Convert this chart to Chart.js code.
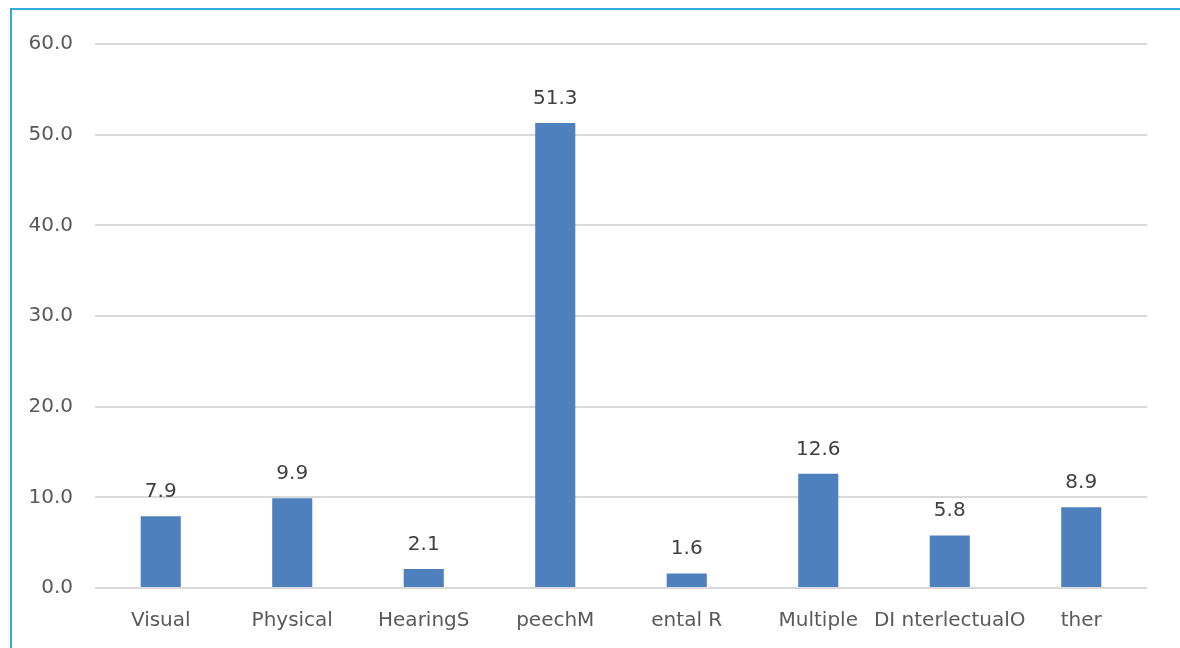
<!DOCTYPE html>
<html>
<head>
<meta charset="utf-8">
<script src="https://cdn.jsdelivr.net/npm/chart.js@4"></script>
<style>
  html, body { margin: 0; padding: 0; background: #ffffff; }
  #wrap { position: relative; width: 1180px; height: 648px; overflow: hidden; }
  #frame { position: absolute; left: 10px; top: 8px; width: 1180px; height: 660px;
           border-top: 2px solid #35a8e0; border-left: 2px solid #35a8e0; box-sizing: border-box; }
  canvas { position: absolute; left: 0; top: 0; }
</style>
</head>
<body>
<div id="wrap">
  <div id="frame"></div>
  <canvas id="chart" width="1180" height="648"></canvas>
</div>
<script>
const categories = ["Visual", "Physical", "HearingS", "peechM", "ental R", "Multiple", "DI nterlectualO", "ther"];
const values = [7.9, 9.9, 2.1, 51.3, 1.6, 12.6, 5.8, 8.9];
const yTicks = [0, 10, 20, 30, 40, 50, 60];

const FONT = "'DejaVu Sans', sans-serif";

// Writes each bar's value just above the bar
const valueLabels = {
  id: 'valueLabels',
  afterDatasetsDraw(chart) {
    const ctx = chart.ctx;
    const meta = chart.getDatasetMeta(0);
    ctx.save();
    ctx.font = '20px ' + FONT;
    ctx.fillStyle = '#404040';
    ctx.textAlign = 'center';
    ctx.textBaseline = 'alphabetic';
    meta.data.forEach((bar, i) => {
      ctx.fillText(values[i].toFixed(1), bar.x, bar.y - 19);
    });
    ctx.restore();
  }
};

new Chart(document.getElementById('chart'), {
  type: 'bar',
  data: {
    labels: categories,
    datasets: [{
      data: values,
      backgroundColor: '#4e80bd',
      borderWidth: 0,
      barPercentage: 0.305,
      categoryPercentage: 1.0
    }]
  },
  options: {
    responsive: false,
    animation: false,
    layout: { padding: { top: 44, right: 33, bottom: 0, left: 0 } },
    plugins: { legend: { display: false }, tooltip: { enabled: false } },
    scales: {
      x: {
        afterFit(scale) { scale.height = 60; },
        grid: { display: false, drawTicks: false },
        border: { display: false },
        ticks: { color: '#595959', font: { family: FONT, size: 20 }, padding: 21, maxRotation: 0, autoSkip: false }
      },
      y: {
        min: 0,
        max: 60,
        afterFit(scale) { scale.width = 95; },
        afterBuildTicks(scale) { scale.ticks = yTicks.map(v => ({ value: v })); },
        grid: { color: '#d9d9d9', lineWidth: 2, drawTicks: false },
        border: { display: false },
        ticks: {
          color: '#595959',
          font: { family: FONT, size: 20 },
          padding: 22,
          callback: v => Number(v).toFixed(1)
        }
      }
    }
  },
  plugins: [valueLabels]
});
</script>
</body>
</html>
